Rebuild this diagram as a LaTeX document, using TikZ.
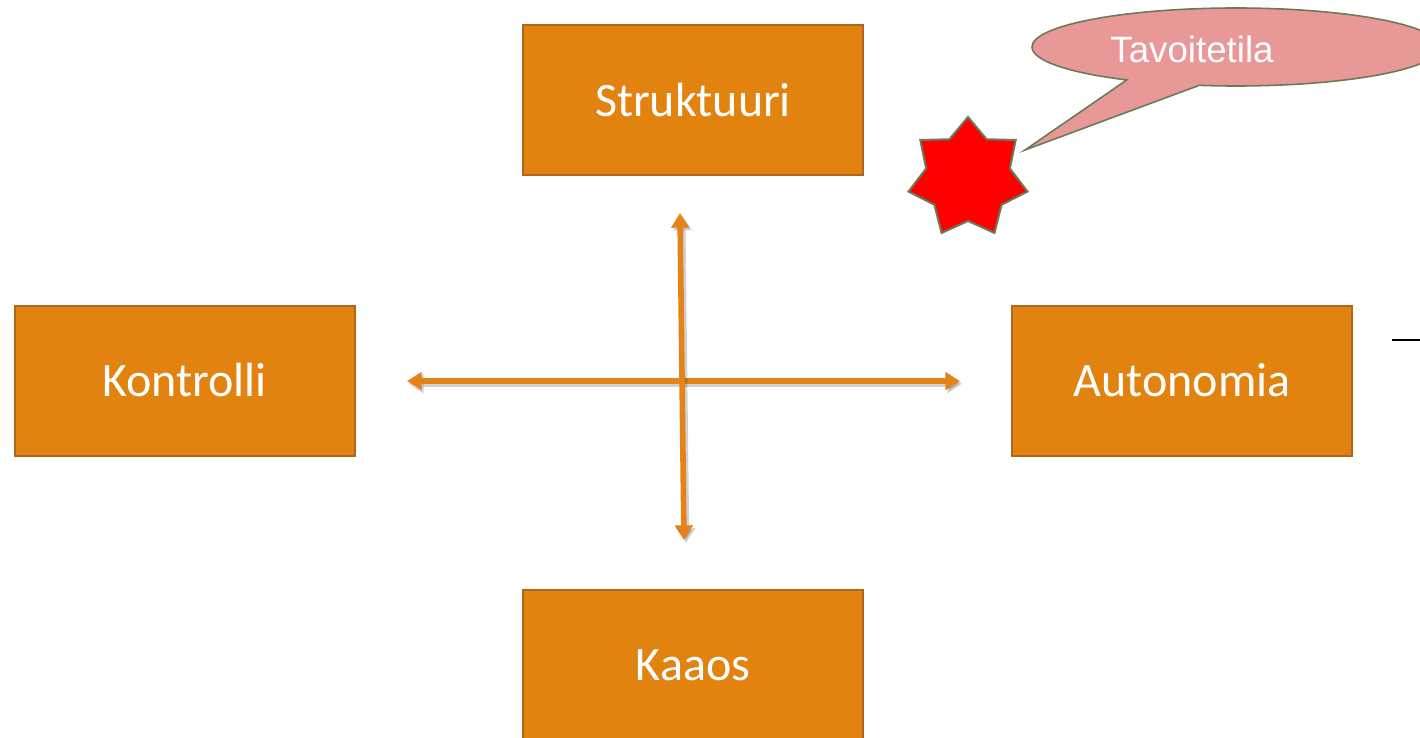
\documentclass[tikz,border=0pt]{standalone}
\usepackage{fontspec}
\setmainfont{Carlito}
\newfontfamily\arialf{Liberation Sans}
\usetikzlibrary{shapes.geometric,shapes.callouts,arrows.meta}
\definecolor{boxfill}{HTML}{E3830F}
\definecolor{boxline}{HTML}{B0661C}
\definecolor{arrcol}{HTML}{E3831A}
\definecolor{callfill}{HTML}{E89896}
\definecolor{olive}{HTML}{6B7A5A}
\tikzset{
  box/.style={draw=boxline, line width=1.5pt, fill=boxfill, minimum width=255pt, minimum height=112.5pt, inner sep=0pt, text=white, font=\fontsize{36}{40}\selectfont},
  dblarrow/.style={draw=arrcol, line width=4.2pt, {Triangle[width=13pt,length=11pt]}-{Triangle[width=13pt,length=11pt]}},
  shadowarrow/.style={draw=black, opacity=0.18, line width=5pt, {Triangle[width=14pt,length=11pt]}-{Triangle[width=14pt,length=11pt]}}
}
\begin{document}
\begin{tikzpicture}[x=0.75pt,y=-0.75pt]
\useasboundingbox (0,0) rectangle (1420,738);
\clip (0,0) rectangle (1420,738);
\node[box] (struk) at (693,100) {Struktuuri};
\node[box] (kaaos) at (693,665) {Kaaos};
\node[box] (kontr) at (184.5,380.5) {Kontrolli};
\node[box] (auto) at (1182,380.5) {Autonomia};
\coordinate (hl) at (407,381);
\coordinate (hr) at (960,381);
\coordinate (vt) at (680,213);
\coordinate (vb) at (684,540);
\draw[shadowarrow, transform canvas={shift={(1.5pt,-2pt)}}] (hl) -- (hr);
\draw[dblarrow] (hl) -- (hr);
\draw[shadowarrow, transform canvas={shift={(1.5pt,-2pt)}}] (vt) -- (vb);
\draw[dblarrow] (vt) -- (vb);
\node[star, star points=7, star point ratio=1.42, minimum size=91.5pt, inner sep=0pt, fill=red, draw=olive, line width=1.5pt] (star) at (968,178) {};
\coordinate (tip) at (1025,150);
\node[ellipse callout, callout absolute pointer={(tip)}, callout pointer arc=22, minimum width=306pt, minimum height=58.5pt, inner sep=0pt, fill=callfill, draw=olive, line width=1.2pt] (call) at (1236,47) {};
\node[text=white, font=\arialf\fontsize{27.5}{30}\selectfont, inner sep=0pt] (calltext) at (1192,49) {Tavoitetila};
\coordinate (bl1) at (1392,340);
\coordinate (bl2) at (1420,340);
\draw[line width=1.5pt, black] (bl1) -- (bl2);
\end{tikzpicture}
\end{document}
